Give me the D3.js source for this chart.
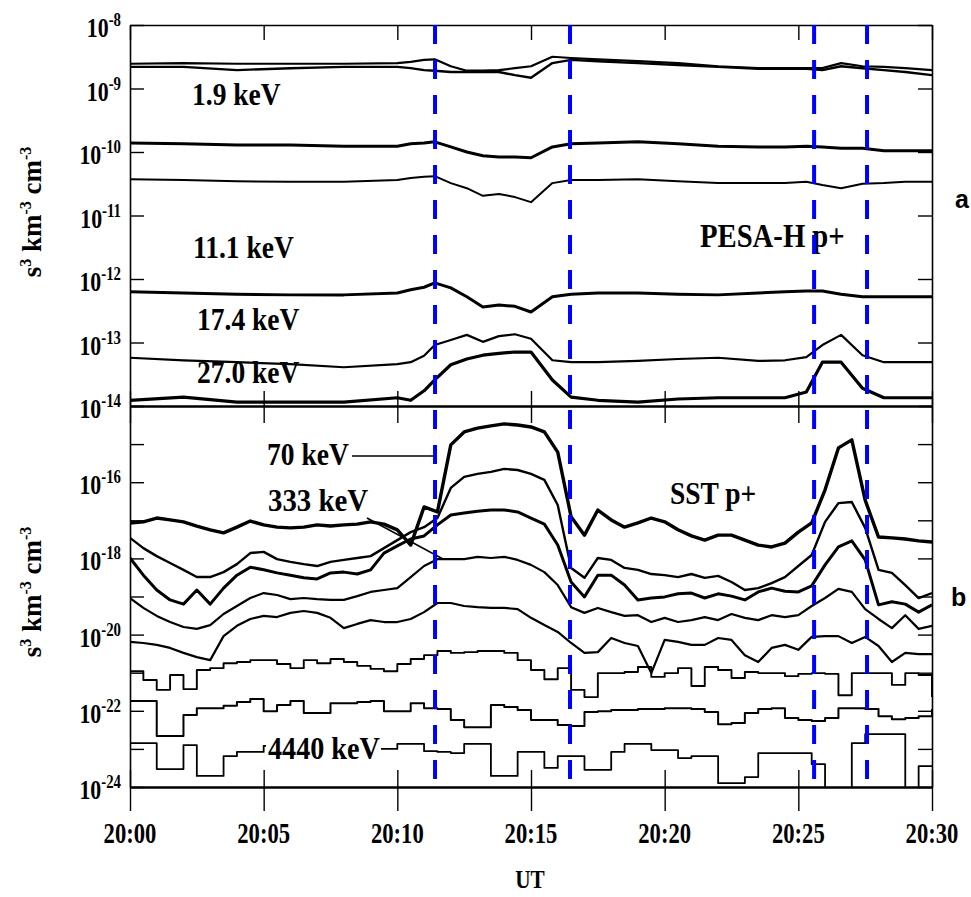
<!DOCTYPE html>
<html><head><meta charset="utf-8">
<script src="https://cdn.jsdelivr.net/npm/d3@7"></script>
<style>body{margin:0;background:#fff} svg{display:block}</style>
</head><body><svg id="chart" width="971" height="897"></svg>
<script>
// ---------- DATA (phase space density, stored as log10 values) ----------
// Panel a: PESA-H p+ , time in minutes after 20:00 UT
const timeA = [0,2,4,6,8,10,10.5,11,11.4,12,12.6,13.2,13.8,14.4,15,15.8,16.5,17.5,19,20.5,22,23.5,24.5,25.3,25.9,26.6,27.4,28.2,29,30];
const pesaTop1 = [-8.61,-8.60,-8.61,-8.61,-8.61,-8.60,-8.58,-8.55,-8.54,-8.65,-8.72,-8.72,-8.71,-8.68,-8.65,-8.50,-8.52,-8.54,-8.57,-8.60,-8.65,-8.68,-8.68,-8.68,-8.68,-8.60,-8.65,-8.66,-8.68,-8.71];
const pesa1p9keV = [-8.66,-8.66,-8.71,-8.68,-8.66,-8.66,-8.68,-8.71,-8.72,-8.74,-8.74,-8.74,-8.74,-8.79,-8.83,-8.60,-8.55,-8.57,-8.60,-8.63,-8.66,-8.69,-8.69,-8.69,-8.71,-8.65,-8.68,-8.71,-8.74,-8.79];
const pesaB = [-9.86,-9.87,-9.89,-9.89,-9.91,-9.91,-9.87,-9.86,-9.84,-9.92,-10.00,-10.06,-10.08,-10.08,-10.09,-9.92,-9.87,-9.86,-9.84,-9.87,-9.91,-9.92,-9.92,-9.91,-9.92,-9.94,-9.94,-9.98,-9.98,-9.98];
const pesaC = [-10.43,-10.44,-10.46,-10.47,-10.47,-10.44,-10.41,-10.39,-10.38,-10.49,-10.57,-10.69,-10.66,-10.71,-10.79,-10.49,-10.44,-10.44,-10.43,-10.46,-10.49,-10.49,-10.49,-10.47,-10.52,-10.57,-10.50,-10.49,-10.47,-10.47];
const pesa11p1keV = [-12.20,-12.22,-12.24,-12.25,-12.25,-12.22,-12.17,-12.13,-12.06,-12.14,-12.28,-12.44,-12.41,-12.43,-12.52,-12.28,-12.24,-12.22,-12.22,-12.24,-12.25,-12.22,-12.20,-12.19,-12.19,-12.24,-12.28,-12.28,-12.28,-12.28];
const pesa17p4keV = [-13.24,-13.28,-13.31,-13.34,-13.39,-13.34,-13.31,-13.21,-13.04,-12.96,-12.88,-12.99,-12.90,-12.87,-12.94,-13.28,-13.31,-13.31,-13.29,-13.26,-13.24,-13.29,-13.28,-13.23,-13.04,-12.88,-13.20,-13.31,-13.31,-13.31];
const pesa27p0keV = [-13.91,-13.86,-13.94,-13.94,-13.94,-13.87,-13.91,-13.76,-13.59,-13.35,-13.26,-13.20,-13.17,-13.15,-13.15,-13.59,-13.86,-13.91,-13.94,-13.89,-13.87,-13.87,-13.87,-13.78,-13.31,-13.31,-13.72,-13.87,-13.87,-13.87];

// Panel b: SST p+
const timeB = [0,0.5,1,1.5,2,2.5,3,3.5,4,4.5,5,5.5,6,6.5,7,7.5,8,8.5,9,9.5,10,10.5,11,11.5,12,12.5,13,13.5,14,14.5,15,15.5,16,16.5,17,17.5,18,18.5,19,19.5,20,20.5,21,21.5,22,22.5,23,23.5,24,24.5,25,25.5,26,26.5,27,27.5,28,28.5,29,29.5,30];
const sst70keV = [-17.07,-17.04,-16.94,-16.99,-17.04,-17.15,-17.25,-17.33,-17.18,-17.02,-17.12,-17.18,-17.20,-17.18,-17.12,-17.15,-17.12,-17.10,-17.04,-17.10,-17.25,-17.65,-16.65,-16.78,-15.02,-14.68,-14.58,-14.52,-14.47,-14.50,-14.55,-14.68,-15.21,-16.91,-17.39,-16.73,-16.99,-17.18,-17.07,-16.94,-17.04,-17.25,-17.41,-17.52,-17.39,-17.39,-17.52,-17.65,-17.70,-17.60,-17.31,-17.07,-16.20,-15.10,-14.89,-16.47,-17.44,-17.46,-17.49,-17.54,-17.57];
const sstCh2 = [-17.46,-17.73,-17.94,-18.12,-18.30,-18.49,-18.49,-18.36,-18.15,-17.86,-17.83,-18.02,-18.09,-18.15,-18.20,-18.09,-18.04,-17.99,-17.94,-17.73,-17.52,-17.31,-17.18,-16.94,-16.15,-15.86,-15.78,-15.73,-15.65,-15.68,-15.78,-15.94,-16.60,-18.25,-18.51,-17.99,-18.04,-18.25,-18.30,-18.41,-18.44,-18.49,-18.41,-18.51,-18.46,-18.62,-18.83,-18.78,-18.65,-18.49,-18.20,-17.91,-17.04,-16.55,-16.52,-17.20,-18.30,-18.38,-18.70,-19.04,-18.91];
const sstCh3 = [-17.99,-18.44,-18.83,-19.09,-19.20,-18.83,-19.20,-18.78,-18.44,-18.23,-18.30,-18.38,-18.44,-18.51,-18.54,-18.38,-18.36,-18.41,-18.30,-17.86,-17.67,-17.49,-17.41,-17.12,-16.86,-16.81,-16.76,-16.73,-16.73,-16.78,-16.94,-17.10,-17.65,-18.62,-19.01,-18.44,-18.44,-18.70,-19.09,-19.04,-19.01,-18.93,-18.91,-19.04,-18.93,-18.99,-19.09,-18.88,-18.78,-18.86,-18.88,-18.72,-18.17,-17.70,-17.54,-18.04,-19.22,-19.14,-19.20,-19.41,-19.22];
const sst333keV = [-19.04,-19.30,-19.51,-19.67,-19.80,-19.85,-19.75,-19.46,-19.25,-19.04,-18.91,-18.96,-19.07,-19.04,-19.07,-19.09,-19.09,-18.99,-18.88,-18.83,-18.78,-18.49,-18.20,-18.02,-18.02,-18.02,-17.96,-17.99,-17.96,-18.04,-18.17,-18.36,-18.70,-19.28,-19.43,-19.30,-19.41,-19.51,-19.49,-19.67,-19.56,-19.67,-19.62,-19.54,-19.62,-19.46,-19.56,-19.62,-19.49,-19.54,-19.49,-19.25,-19.04,-18.80,-18.88,-19.33,-19.59,-19.83,-19.49,-19.85,-19.77];
const sstCh5 = [-20.19,-20.22,-20.27,-20.35,-20.48,-20.59,-20.67,-20.04,-19.77,-19.59,-19.51,-19.54,-19.43,-19.38,-19.43,-19.56,-19.83,-19.72,-19.62,-19.67,-19.67,-19.59,-19.41,-19.17,-19.17,-19.25,-19.28,-19.30,-19.30,-19.33,-19.56,-19.75,-19.93,-20.22,-20.48,-20.46,-20.09,-20.22,-20.30,-21.01,-20.14,-20.19,-20.27,-20.27,-20.09,-20.14,-20.54,-20.72,-20.35,-20.27,-20.40,-20.06,-20.04,-20.04,-20.22,-20.06,-20.30,-20.72,-20.48,-20.51,-20.51];
const sstCh6 = [-20.96,-21.19,-21.45,-21.06,-21.43,-20.93,-20.88,-20.75,-20.72,-20.67,-20.67,-20.77,-20.88,-20.67,-20.75,-20.64,-20.72,-20.82,-20.90,-20.96,-20.77,-20.64,-20.54,-20.43,-20.48,-20.46,-20.43,-20.43,-20.48,-20.67,-20.93,-21.17,-20.88,-21.45,-21.64,-21.01,-21.01,-20.98,-20.85,-21.11,-21.01,-20.88,-21.35,-20.85,-20.93,-21.14,-20.98,-21.01,-21.01,-21.09,-21.03,-21.01,-21.03,-21.59,-21.01,-21.01,-21.01,-21.32,-21.01,-21.06,-21.64];
const sstCh7 = [-21.74,-21.74,-22.66,-22.66,-22.11,-21.93,-21.93,-21.87,-21.77,-21.69,-22.01,-21.85,-21.74,-22.06,-22.06,-21.80,-21.80,-21.77,-21.74,-22.01,-22.01,-21.80,-21.93,-21.95,-22.24,-22.43,-22.43,-21.85,-21.90,-21.98,-22.24,-22.24,-22.37,-22.40,-22.03,-22.01,-21.98,-21.98,-21.95,-21.95,-21.93,-21.93,-21.95,-22.03,-22.35,-22.32,-22.06,-21.95,-21.93,-22.19,-22.24,-22.27,-22.19,-21.93,-21.93,-21.95,-22.14,-22.22,-22.19,-22.14,-21.95];
const sst4440keV = [-22.85,-22.85,-23.53,-23.53,-22.90,-23.71,-23.71,-23.19,-23.08,-23.08,-22.92,-22.92,-22.95,-22.98,-23.00,-23.00,-23.00,-23.00,-23.00,-23.00,-22.87,-22.87,-23.06,-23.08,-23.11,-22.87,-22.87,-23.71,-23.71,-23.08,-23.08,-23.50,-23.19,-23.19,-23.55,-23.55,-23.08,-22.87,-22.87,-23.03,-23.03,-23.24,-23.19,-23.19,-23.90,-23.90,-23.74,-23.11,-23.11,-23.11,-23.11,-23.40,-24.08,-24.08,-22.85,-22.61,-22.61,-22.61,-24.08,-23.45,-23.45];

// Boundary times (minutes after 20:00) marked by blue dashed lines
const boundaryTimes = [11.41, 16.46, 25.59, 27.57];
// Axis ticks
const timeTicks = [0,5,10,15,20,25,30];
const timeTickLabels = ["20:00","20:05","20:10","20:15","20:20","20:25","20:30"];
const decadesA = [-8,-9,-10,-11,-12,-13,-14];
const decadesB = [-14,-15,-16,-17,-18,-19,-20,-21,-22,-23,-24];
const labelledB = [-16,-18,-20,-22,-24];

// ---------- DRAWING ----------
const svg = d3.select("#chart");
const SERIF = "'Liberation Serif','Times New Roman',serif";
const SANS = "'Liberation Sans',Arial,sans-serif";
const X0 = 130, X1 = 932, TA = 25, MID = 406, BB = 787;

const x = d3.scaleLinear().domain([0, 30]).range([X0, X1]);
const yA = d3.scaleLog().domain([1e-14, 1e-8]).range([MID, TA]);
const yB = d3.scaleLog().domain([1e-24, 1e-14]).range([BB, MID]);

const defs = svg.append("defs");
defs.append("clipPath").attr("id", "clipA").append("rect").attr("x", X0).attr("y", TA).attr("width", X1 - X0).attr("height", MID - TA);
defs.append("clipPath").attr("id", "clipB").append("rect").attr("x", X0).attr("y", MID).attr("width", X1 - X0).attr("height", BB - MID);

function drawSeries(times, vals, y, clip, width, curve) {
  const line = d3.line()
    .x((d, i) => x(times[i]))
    .y(d => y(Math.pow(10, d)))
    .curve(curve);
  svg.append("path").attr("clip-path", `url(#${clip})`)
    .attr("d", line(vals)).attr("fill", "none").attr("stroke", "#000")
    .attr("stroke-width", width).attr("stroke-linejoin", "round");
}

// panel a series
[[pesaTop1, 2.2], [pesa1p9keV, 2.4], [pesaB, 3], [pesaC, 2], [pesa11p1keV, 3], [pesa17p4keV, 2.2], [pesa27p0keV, 3.2]]
  .forEach(([v, w]) => drawSeries(timeA, v, yA, "clipA", w, d3.curveLinear));

// panel b series
[[sst70keV, 3.4, d3.curveLinear], [sstCh2, 2.4, d3.curveLinear], [sstCh3, 3, d3.curveLinear], [sst333keV, 2.2, d3.curveLinear],
 [sstCh5, 2.2, d3.curveLinear], [sstCh6, 1.9, d3.curveStepAfter], [sstCh7, 2, d3.curveStepAfter], [sst4440keV, 1.8, d3.curveStepAfter]]
  .forEach(([v, w, c]) => drawSeries(timeB, v, yB, "clipB", w, c));

// axes (inward ticks)
function styleAxis(g, w) {
  g.selectAll(".domain").attr("stroke", "#000").attr("stroke-width", w);
  g.selectAll(".tick line").attr("stroke", "#000").attr("stroke-width", 1.4);
  g.selectAll("text").remove();
}
const tvA = decadesA.map(e => Math.pow(10, e));
const tvB = decadesB.map(e => Math.pow(10, e));
svg.append("g").attr("transform", `translate(${X0},0)`).call(d3.axisLeft(yA).tickValues(tvA).tickSize(-14).tickSizeOuter(0).tickFormat("")).call(styleAxis, 1.6);
svg.append("g").attr("transform", `translate(${X1},0)`).call(d3.axisRight(yA).tickValues(tvA).tickSize(-14).tickSizeOuter(0).tickFormat("")).call(styleAxis, 1.6);
svg.append("g").attr("transform", `translate(${X0},0)`).call(d3.axisLeft(yB).tickValues(tvB).tickSize(-14).tickSizeOuter(0).tickFormat("")).call(styleAxis, 1.6);
svg.append("g").attr("transform", `translate(${X1},0)`).call(d3.axisRight(yB).tickValues(tvB).tickSize(-14).tickSizeOuter(0).tickFormat("")).call(styleAxis, 1.6);
svg.append("g").attr("transform", `translate(0,${TA})`).call(d3.axisTop(x).tickValues(timeTicks).tickSize(-15).tickSizeOuter(0).tickFormat("")).call(styleAxis, 1.6);
svg.append("g").attr("transform", `translate(0,${MID})`).call(d3.axisBottom(x).tickValues(timeTicks).tickSize(-15).tickSizeOuter(0).tickFormat("")).call(styleAxis, 2);
svg.append("g").attr("transform", `translate(0,${MID})`).call(d3.axisTop(x).tickValues(timeTicks).tickSize(-17).tickSizeOuter(0).tickFormat("")).call(styleAxis, 2);
svg.append("g").attr("transform", `translate(0,${BB})`).call(d3.axisBottom(x).tickValues(timeTicks).tickSize(-17).tickSizeOuter(0).tickFormat("")).call(styleAxis, 2);
svg.append("g").attr("transform", `translate(0,${BB})`).call(d3.axisBottom(x).tickValues(timeTicks).tickSize(24).tickSizeOuter(0).tickFormat("")).call(styleAxis, 2);

// condensed text helper
function txt(px, py, parts, opt) {
  const o = Object.assign({size: 32, sx: 0.86, anchor: "start", family: SERIF, weight: "bold", rotate: 0}, opt || {});
  const g = svg.append("g").attr("transform", `translate(${px},${py}) rotate(${o.rotate}) scale(${o.sx},1)`);
  const t = g.append("text").attr("text-anchor", o.anchor).attr("font-family", o.family)
    .attr("font-weight", o.weight).attr("font-size", o.size).attr("fill", "#000");
  parts.forEach(p => {
    const s = t.append("tspan").text(p.t);
    if (p.size) s.attr("font-size", p.size);
    if (p.dy) s.attr("dy", p.dy);
  });
  return g;
}

// y tick labels
decadesA.forEach(e => txt(121, yA(Math.pow(10, e)) + 12, [{t: "10"}, {t: String(e), size: 19, dy: -11}], {size: 28, sx: 0.78, anchor: "end"}));
labelledB.forEach(e => txt(121, yB(Math.pow(10, e)) + 12, [{t: "10"}, {t: String(e), size: 19, dy: -11}], {size: 28, sx: 0.78, anchor: "end"}));

// x tick labels
timeTicks.forEach((t, i) => txt(x(t), 843, [{t: timeTickLabels[i]}], {size: 29, sx: 0.78, anchor: "middle"}));
txt(530, 888, [{t: "UT"}], {size: 25, sx: 0.85, anchor: "middle"});

// y axis titles
const unitParts = [{t: "s"}, {t: "3", size: 16, dy: -10}, {t: " km", dy: 10}, {t: "-3", size: 16, dy: -10}, {t: " cm", dy: 10}, {t: "-3", size: 16, dy: -10}];
txt(41, 212, unitParts, {size: 27, sx: 1, anchor: "middle", rotate: -90});
txt(41, 592, unitParts, {size: 27, sx: 1, anchor: "middle", rotate: -90});

// panel letters
txt(955, 208, [{t: "a"}], {size: 25, sx: 1, family: SANS});
txt(951, 606, [{t: "b"}], {size: 25, sx: 1, family: SANS});

// leader lines
svg.append("line").attr("x1", 352).attr("y1", 456).attr("x2", 437).attr("y2", 456).attr("stroke", "#000").attr("stroke-width", 1.5);
svg.append("line").attr("x1", 367).attr("y1", 518).attr("x2", 443).attr("y2", 559).attr("stroke", "#000").attr("stroke-width", 1.5);
svg.append("rect").attr("x", 266).attr("y", 735).attr("width", 115).attr("height", 27).attr("fill", "#fff");

// annotations
txt(192, 105, [{t: "1.9 keV"}]);
txt(193, 258, [{t: "11.1 keV"}]);
txt(197, 330, [{t: "17.4 keV"}]);
txt(197, 383, [{t: "27.0 keV"}]);
txt(700, 247, [{t: "PESA-H p+"}], {size: 33, sx: 0.87});
txt(267, 465, [{t: "70 keV"}]);
txt(268, 511, [{t: "333 keV"}], {sx: 0.9});
txt(670, 504, [{t: "SST p+"}]);
txt(268, 759, [{t: "4440 keV"}], {sx: 0.88});

// blue dashed boundary lines
svg.selectAll("line.bound").data(boundaryTimes).enter().append("line").attr("class", "bound")
  .attr("x1", d => x(d)).attr("x2", d => x(d)).attr("y1", TA).attr("y2", BB)
  .attr("stroke", "#0000ff").attr("stroke-width", 4).attr("stroke-dasharray", "19,16");
</script></body></html>
